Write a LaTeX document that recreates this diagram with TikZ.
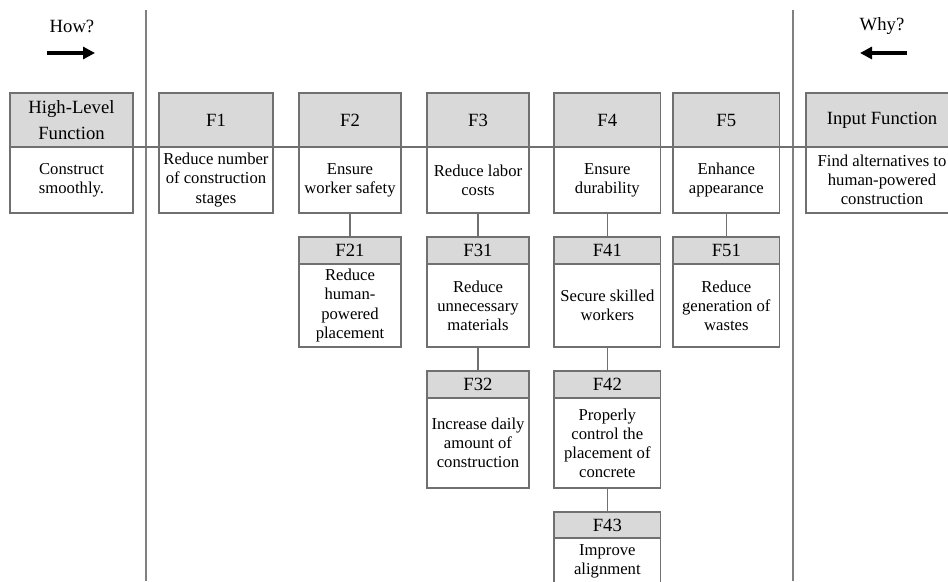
\documentclass[tikz,border=0pt]{standalone}
\usepackage{fontspec}
\setmainfont{Liberation Serif}
\usetikzlibrary{positioning,arrows.meta}
\definecolor{boxgray}{RGB}{112,112,112}
\definecolor{headgray}{RGB}{217,217,217}
\definecolor{rulegray}{RGB}{128,128,128}
\tikzset{
  box/.style={draw=boxgray, line width=1.1pt, inner sep=0pt, outer sep=0pt, align=center},
  head/.style={box, fill=headgray, font=\fontsize{14}{19.5}\selectfont},
  body/.style={box, fill=white, font=\fontsize{12.5}{14.3}\selectfont},
  link/.style={draw=boxgray, line width=1.1pt},
  divider/.style={draw=rulegray, line width=1.2pt},
  bigarrow/.style={line width=3pt, -{Triangle[length=9pt,width=9pt]}},
}
\begin{document}
\begin{tikzpicture}[x=0.75pt, y=-0.75pt, node distance=18pt]
  \clip (0,0) rectangle (948,581);
  % how / why
  \node[font=\fontsize{14}{17}\selectfont] (how) at (72,26) {How?};
  \node[font=\fontsize{14}{17}\selectfont] (why) at (882,26) {Why?};
  \coordinate (howa) at (47,53); \coordinate (howb) at (95,53);
  \coordinate (whya) at (907,53); \coordinate (whyb) at (860,53);
  \draw[bigarrow] (howa) -- (howb);
  \draw[bigarrow] (whya) -- (whyb);
  % dividers
  \coordinate (lt) at (146,10); \coordinate (lb) at (146,581);
  \coordinate (rt) at (793,10); \coordinate (rb) at (793,581);
  \draw[divider] (lt) -- (lb);
  \draw[divider] (rt) -- (rb);
  % top row
  \node[head, anchor=north west, minimum width=92.25pt, minimum height=40.5pt] (hlh) at (10,93) {High-Level\\Function};
  \node[body, below=0pt of hlh, minimum width=92.25pt, minimum height=49.5pt] (hl) {Construct\\smoothly.};
  \node[head, anchor=north west, minimum width=85.5pt, minimum height=40.5pt] (f1h) at (159,93) {F1};
  \node[body, below=0pt of f1h, minimum width=85.5pt, minimum height=49.5pt] (f1) {Reduce number\\of construction\\stages};
  \node[head, anchor=north west, minimum width=76.5pt, minimum height=40.5pt] (f2h) at (299,93) {F2};
  \node[body, below=0pt of f2h, minimum width=76.5pt, minimum height=49.5pt] (f2) {Ensure\\worker safety};
  \node[head, anchor=north west, minimum width=76.5pt, minimum height=40.5pt] (f3h) at (427,93) {F3};
  \node[body, below=0pt of f3h, minimum width=76.5pt, minimum height=49.5pt] (f3) {Reduce labor\\costs};
  \node[head, anchor=north west, minimum width=80pt, minimum height=40.5pt] (f4h) at (554,93) {F4};
  \node[body, below=0pt of f4h, minimum width=80pt, minimum height=49.5pt] (f4) {Ensure\\durability};
  \node[head, anchor=north west, minimum width=80pt, minimum height=40.5pt] (f5h) at (673,93) {F5};
  \node[body, below=0pt of f5h, minimum width=80pt, minimum height=49.5pt] (f5) {Enhance\\appearance};
  \node[head, anchor=north west, minimum width=114pt, minimum height=40.5pt] (inph) at (806,93) {Input Function};
  \node[body, below=0pt of inph, minimum width=114pt, minimum height=49.5pt] (inp) {Find alternatives to\\human-powered\\construction};
  % second row
  \node[head, below=of f2, minimum width=76.5pt, minimum height=20.25pt] (f21h) {F21};
  \node[body, below=0pt of f21h, minimum width=76.5pt, minimum height=62.25pt] (f21) {Reduce\\human-\\powered\\placement};
  \node[head, below=of f3, minimum width=76.5pt, minimum height=20.25pt] (f31h) {F31};
  \node[body, below=0pt of f31h, minimum width=76.5pt, minimum height=62.25pt] (f31) {Reduce\\unnecessary\\materials};
  \node[head, below=of f4, minimum width=80pt, minimum height=20.25pt] (f41h) {F41};
  \node[body, below=0pt of f41h, minimum width=80pt, minimum height=62.25pt] (f41) {Secure skilled\\workers};
  \node[head, below=of f5, minimum width=80pt, minimum height=20.25pt] (f51h) {F51};
  \node[body, below=0pt of f51h, minimum width=80pt, minimum height=62.25pt] (f51) {Reduce\\generation of\\wastes};
  % third and fourth row
  \node[head, below=of f31, minimum width=76.5pt, minimum height=20.25pt] (f32h) {F32};
  \node[body, below=0pt of f32h, minimum width=76.5pt, minimum height=67.5pt] (f32) {Increase daily\\amount of\\construction};
  \node[head, below=of f41, minimum width=80pt, minimum height=20.25pt] (f42h) {F42};
  \node[body, below=0pt of f42h, minimum width=80pt, minimum height=67.5pt] (f42) {Properly\\control the\\placement of\\concrete};
  \node[head, below=of f42, minimum width=80pt, minimum height=19.5pt] (f43h) {F43};
  \node[body, below=0pt of f43h, minimum width=80pt, minimum height=34.5pt] (f43) {Improve\\alignment};
  % links
  \draw[link] (hlh.south east) -- (f1h.south west);
  \draw[link] (f1h.south east) -- (f2h.south west);
  \draw[link] (f2h.south east) -- (f3h.south west);
  \draw[link] (f3h.south east) -- (f4h.south west);
  \draw[link] (f4h.south east) -- (f5h.south west);
  \draw[link] (f5h.south east) -- (inph.south west);
  \draw[link] (f2) -- (f21h);
  \draw[link] (f3) -- (f31h);
  \draw[link] (f4) -- (f41h);
  \draw[link] (f5) -- (f51h);
  \draw[link] (f31) -- (f32h);
  \draw[link] (f41) -- (f42h);
  \draw[link] (f42) -- (f43h);
\end{tikzpicture}
\end{document}
